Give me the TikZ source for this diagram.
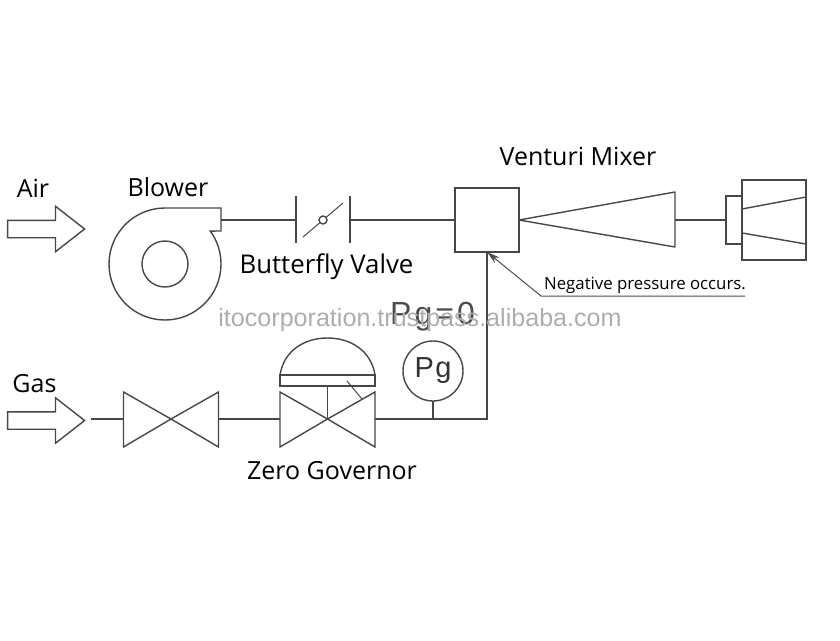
\documentclass[tikz,border=0pt]{standalone}
\usepackage{fontspec}
\setmainfont{Open Sans}
\newfontfamily\markfont{Liberation Sans}
\usetikzlibrary{arrows.meta,positioning,calc,shapes.arrows}

\begin{document}
\begin{tikzpicture}[
  x=1pt,y=-1pt,
  outer sep=0pt,
  >={Stealth[length=13pt,width=7pt]},
  stroke/.style={draw=black!72,line width=1.4pt,line join=miter},
  pipe/.style={stroke},
  vessel/.style={stroke,inner sep=0pt},
  lbl/.style={font=\fontsize{25}{28}\selectfont,inner sep=0pt,text=black},
  feed/.style={stroke,single arrow,single arrow tip angle=76,single arrow head extend=14pt,
               minimum height=77pt,inner xsep=0pt,inner ysep=8pt},
  lead/.style={draw=black!70,line width=1pt},
]
\useasboundingbox (0,0) rectangle (840,640);

% ---- air line (top row) -------------------------------------------------
\node[feed] (airin) at (40.5,229) {};
\node[lbl] (air) at (33,188.5) {Air};
\node[lbl] (blowerlab) at (168,187.5) {Blower};

\node[vessel,circle,minimum size=46pt] (eye) at (165,264) {};
\draw[stroke] (165,208) arc[start angle=90,end angle=396,radius=56pt] -- (221,231) -- (221,208) -- cycle;
\coordinate (blowerout) at (221,220);

% butterfly valve
\coordinate (plateA) at (296,220);
\coordinate (plateB) at (350,220);
\node[vessel,circle,minimum size=8pt] (disc) at (323,220) {};
\draw[stroke] ($(plateA)+(0,-24)$) -- ($(plateA)+(0,23)$);
\draw[stroke] ($(plateB)+(0,-24)$) -- ($(plateB)+(0,23)$);
\draw[stroke,line width=1pt] (303,237) -- (disc) -- (343,203);
\node[lbl,font=\fontsize{25.8}{28}\selectfont] (bvlab) at (326.5,266.5) {Butterfly Valve};

% venturi mixer and burner
\node[vessel,minimum width=64pt,minimum height=64pt] (mixer) at (487,220) {};
\node[lbl] (mixlab) at (578,156) {Venturi Mixer};
\coordinate (conetip) at (mixer.east);
\coordinate (conemid) at (675,220);
\draw[stroke,line join=round] (conetip) -- (675,192) -- (675,247) -- cycle;
\node[vessel,minimum width=64pt,minimum height=80pt] (burner) at (774,220) {};
\node[vessel,minimum width=16pt,minimum height=48pt,left=0pt of burner] (neck) {};
\draw[stroke] (742,209) -- (806,197);
\draw[stroke] (742,233) -- (806,244);

\draw[pipe] (blowerout) -- (plateA);
\draw[pipe] (plateB) -- (mixer.west);
\draw[pipe] (conemid) -- (neck.west);

% ---- gas line (lower row) -------------------------------------------------
\node[feed] (gasin) at (40.5,420.5) {};
\node[lbl] (gas) at (34.5,384) {Gas};

\coordinate (shutoff) at (171,419);
\coordinate (gov) at (327.5,419);
\coordinate (gasstart) at (91,419);
\draw[stroke] (shutoff) -- ++(-47.5,-27) -- ++(0,55) -- (shutoff) -- ++(47.5,-27) -- ++(0,55) -- cycle;
\draw[stroke,line width=1.9pt] (123.5,392) -- (123.5,447);
\draw[stroke] (gov) -- ++(-47.5,-27) -- ++(0,55) -- (gov) -- ++(47.5,-27) -- ++(0,55) -- cycle;

% zero governor top
\node[vessel,minimum width=95pt,minimum height=11pt] (bonnet) at (327.5,380.5) {};
\draw[stroke] (bonnet.north west) .. controls (284,350) and (305,338) .. (327.5,338)
            .. controls (350,338) and (371,350) .. (bonnet.north east);
\draw[stroke] (bonnet.south) -- (gov);
\draw[stroke,line width=1pt] (347,381) -- (362,399);
\node[lbl] (govlab) at (332,471) {Zero Governor};

% gauge
\node[vessel,circle,minimum size=60pt,text=black!80,font=\markfont\fontsize{29}{30}\selectfont] (gauge) at (433,371) {P\kern1.5pt g};
\coordinate (gaugefoot) at (433,419);
\draw[pipe] (gauge.south) -- (gaugefoot);
\node[inner sep=0pt,text=black!70,font=\markfont\fontsize{32}{34}\selectfont] (zero) at (432.5,317) {P\kern3pt g\kern3pt =\kern3pt 0};

\draw[pipe] (gasstart) -- (123.5,419);
\draw[pipe] (218.5,419) -- (280,419);
\draw[pipe] (375,419) -| (mixer.south);

% ---- note on the mixer ----------------------------------------------------
\node[inner sep=0pt,text=black,font=\fontsize{16.8}{18}\selectfont] (note) at (645,285) {Negative pressure occurs.};
\coordinate (noteend) at (745,296);
\coordinate (noteknee) at (541,296);
\draw[lead,->] (noteend) -- (noteknee) -- (mixer.south);

% ---- watermark -------------------------------------------------------------
\node[inner sep=0pt,text=black!32,font=\markfont\fontsize{25.1}{28}\selectfont] (mark) at (420,320) {itocorporation.trustpass.alibaba.com};

\end{tikzpicture}
\end{document}
